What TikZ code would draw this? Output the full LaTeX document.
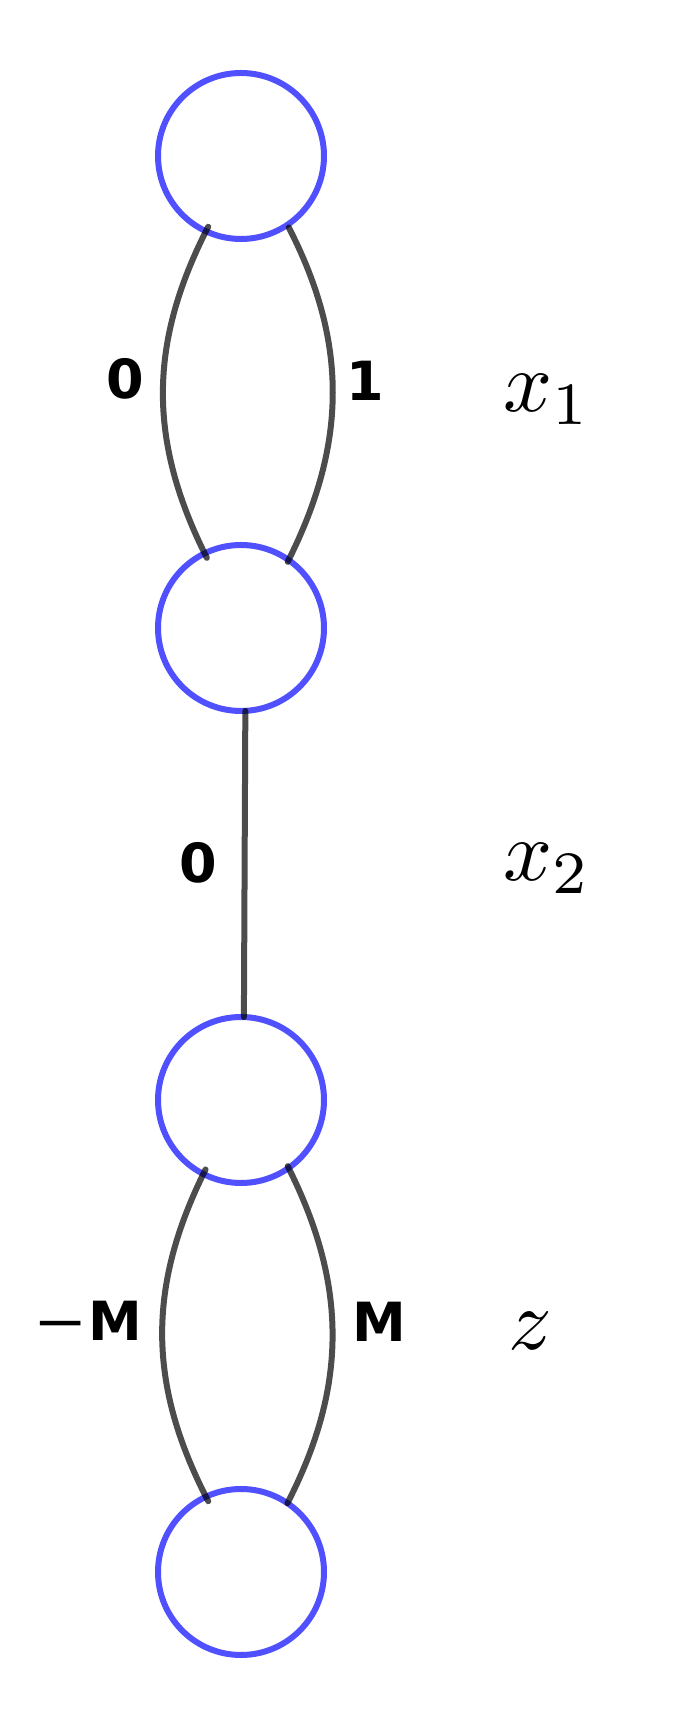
\documentclass[tikz,border=0pt]{standalone}
\usepackage{graphicx}
\usepackage{fontspec}
\newfontfamily\weightfont{DejaVu Sans}
\definecolor{nodeblue}{RGB}{80,80,255}
\tikzset{
  state/.style={circle, draw=nodeblue, line width=6pt, minimum size=166pt, inner sep=0pt, outer sep=0pt},
  edge/.style={draw=black, draw opacity=0.7, line width=6pt, line cap=round},
  bentedge/.style={edge, shorten <=-5pt, shorten >=-5pt},
  weight/.style={font=\weightfont\bfseries\fontsize{54}{60}\selectfont, inner sep=0pt},
  layer/.style={font=\fontsize{10}{12}\selectfont, scale=8.6, inner sep=0pt, anchor=base west}
}
\begin{document}
\begin{tikzpicture}[x=1pt,y=1pt]
\useasboundingbox (0,0) rectangle (675,1717);
\node [state] (n1) at (241,1561) {};
\node [state] (n2) at (241,1089) {};
\node [state] (n3) at (241,617) {};
\node [state] (n4) at (241,145) {};
\draw [bentedge] (n1.245) to[bend right=27] (n2.116);  % layer x1
\draw [edge, shorten <=3pt, shorten >=-2pt] (n1.-56) to[bend left=27] (n2.55);
\draw [edge] (n2.-87) -- (n3.88);  % layer x2
\draw [bentedge] (n3.243) to[bend right=27] (n4.115);  % layer z
\draw [edge, shorten <=-2pt] (n3.-55) to[bend left=27] (n4.56);
\node [weight] (w1) at (125,1338) {0};
\node [weight] (w2) at (365,1336) {1};
\node [weight] (w3) at (198,854) {0};
\node [weight] (w4) at (88,396) {{\mdseries\scalebox{1.2}[1]{−}}M};
\node [weight] (w5) at (379,395) {M};
\node [layer] (l1) at (502,1305) {$x_1$};
\node [layer] (l2) at (502,836) {$x_2$};
\node [layer] (l3) at (507,367) {$z$};
\end{tikzpicture}
\end{document}
